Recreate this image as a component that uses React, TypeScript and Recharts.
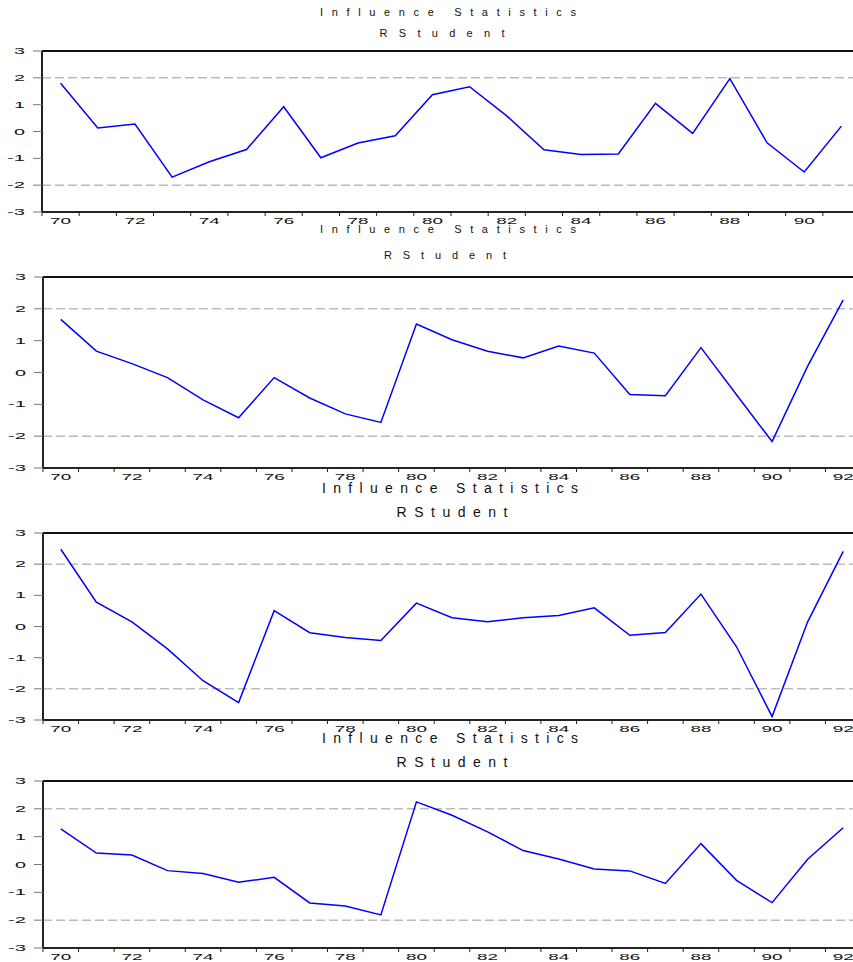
import React from 'react';
import { LineChart, Line, XAxis, YAxis, ReferenceLine } from 'recharts';

const years1 = [70, 71, 72, 73, 74, 75, 76, 77, 78, 79, 80, 81, 82, 83, 84, 85, 86, 87, 88, 89, 90, 91];
const years2 = [70, 71, 72, 73, 74, 75, 76, 77, 78, 79, 80, 81, 82, 83, 84, 85, 86, 87, 88, 89, 90, 91, 92];

const rstudent1 = [1.8, 0.13, 0.28, -1.7, -1.13, -0.67, 0.92, -0.98, -0.43, -0.16, 1.37, 1.67, 0.58, -0.68, -0.86, -0.84, 1.05, -0.07, 1.97, -0.42, -1.51, 0.2];
const rstudent2 = [1.67, 0.67, 0.28, -0.16, -0.86, -1.42, -0.16, -0.8, -1.3, -1.57, 1.52, 1.03, 0.67, 0.46, 0.83, 0.61, -0.69, -0.73, 0.78, -0.7, -2.17, 0.2, 2.28];
const rstudent3 = [2.48, 0.78, 0.15, -0.72, -1.74, -2.44, 0.51, -0.2, -0.35, -0.45, 0.75, 0.28, 0.15, 0.28, 0.35, 0.6, -0.28, -0.19, 1.04, -0.65, -2.89, 0.15, 2.41];
const rstudent4 = [1.28, 0.41, 0.34, -0.22, -0.32, -0.64, -0.46, -1.38, -1.49, -1.81, 2.25, 1.77, 1.17, 0.5, 0.2, -0.16, -0.23, -0.68, 0.75, -0.57, -1.37, 0.19, 1.32];

const xLabels1 = [70, 72, 74, 76, 78, 80, 82, 84, 86, 88, 90];
const xLabels2 = [70, 72, 74, 76, 78, 80, 82, 84, 86, 88, 90, 92];
const yTicks = [-3, -2, -1, 0, 1, 2, 3];
const bandLevels = [2, -2];

const titleText = 'Influence Statistics';
const subtitleText = 'RStudent';

const FONT = '"Liberation Sans", Arial, sans-serif';

const XTick = (props: any) => {
  const { x, y, payload } = props;
  return (
    <text
      x={x}
      y={y + 8}
      textAnchor="middle"
      dominantBaseline="central"
      fontSize={9}
      fontFamily={FONT}
      fill="#111"
      textLength={21}
      lengthAdjust="spacingAndGlyphs"
    >
      {String(payload.value)}
    </text>
  );
};

const YTick = (props: any) => {
  const { x, y, payload } = props;
  const s = String(payload.value);
  return (
    <text
      x={x - 8}
      y={y}
      textAnchor="end"
      dominantBaseline="central"
      fontSize={9}
      fontFamily={FONT}
      fill="#111"
      textLength={s.length > 1 ? 18 : 11}
      lengthAdjust="spacingAndGlyphs"
    >
      {s}
    </text>
  );
};

const EmptyTick = () => <g />;

type PanelProps = {
  plotTop: number;
  plotBottom: number;
  width: number;
  yAxisW: number;
  years: number[];
  values: number[];
  labels: number[];
};

function Panel({ plotTop, plotBottom, width, yAxisW, years, values, labels }: PanelProps) {
  const data = years.map((yr, i) => ({ year: yr, v: values[i] }));
  const bounds = [...years.map((yr) => yr - 0.5), years[years.length - 1] + 0.5];
  const domain: [number, number] = [bounds[0], bounds[bounds.length - 1]];
  const h = plotBottom - plotTop + 20 + 28;
  return (
    <div style={{ position: 'absolute', left: 0, top: plotTop - 20 }}>
      <LineChart width={width} height={h} data={data} margin={{ top: 20, right: 0, bottom: 0, left: 0 }}>
        <XAxis
          xAxisId="g"
          type="number"
          dataKey="year"
          domain={domain}
          ticks={bounds}
          interval={0}
          allowDataOverflow
          height={1}
          tickSize={4}
          tick={EmptyTick}
          tickLine={{ stroke: '#222', strokeWidth: 1 }}
          axisLine={{ stroke: '#222', strokeWidth: 2 }}
        />
        <XAxis
          xAxisId="l"
          type="number"
          dataKey="year"
          domain={domain}
          ticks={labels}
          interval={0}
          allowDataOverflow
          height={27}
          tickSize={0}
          tickMargin={0}
          tickLine={false}
          axisLine={false}
          tick={XTick}
        />
        <YAxis
          type="number"
          domain={[-3, 3]}
          ticks={yTicks}
          interval={0}
          width={yAxisW}
          tickSize={9}
          tickMargin={0}
          tickLine={{ stroke: '#777', strokeWidth: 1 }}
          axisLine={{ stroke: '#222', strokeWidth: 2 }}
          tick={YTick}
        />
        <ReferenceLine xAxisId="g" y={3} stroke="#111" strokeWidth={2} />
        {bandLevels.map((lv) => (
          <ReferenceLine key={lv} xAxisId="g" y={lv} stroke="#9a9a9a" strokeWidth={1} strokeDasharray="9 4" />
        ))}
        <Line
          xAxisId="g"
          type="linear"
          dataKey="v"
          stroke="#0000ff"
          strokeWidth={1.5}
          dot={false}
          activeDot={false}
          isAnimationActive={false}
        />
      </LineChart>
    </div>
  );
}

const titles = [
  { x: 448, y: 12, size: 11, len: 256, text: titleText },
  { x: 442, y: 33, size: 11, len: 125, text: subtitleText },
  { x: 448, y: 229, size: 11, len: 256, text: titleText },
  { x: 445, y: 255, size: 11, len: 122, text: subtitleText },
  { x: 450, y: 488, size: 14, len: 256, text: titleText },
  { x: 452, y: 512, size: 14, len: 111, text: subtitleText },
  { x: 450, y: 738, size: 14, len: 256, text: titleText },
  { x: 452, y: 762, size: 14, len: 111, text: subtitleText },
];

export default function App() {
  return (
    <div
      style={{
        position: 'absolute',
        left: 0,
        top: 0,
        width: 853,
        height: 962,
        overflow: 'hidden',
        background: '#fff',
      }}
    >
      <Panel plotTop={51} plotBottom={212} width={860} yAxisW={42} years={years1} values={rstudent1} labels={xLabels1} />
      <Panel plotTop={277} plotBottom={468} width={861} yAxisW={43} years={years2} values={rstudent2} labels={xLabels2} />
      <Panel plotTop={533} plotBottom={720} width={861} yAxisW={43} years={years2} values={rstudent3} labels={xLabels2} />
      <Panel plotTop={781} plotBottom={948} width={861} yAxisW={43} years={years2} values={rstudent4} labels={xLabels2} />
      <svg
        width={853}
        height={962}
        style={{ position: 'absolute', left: 0, top: 0, pointerEvents: 'none' }}
      >
        {titles.map((t, i) => (
          <text
            key={i}
            x={t.x}
            y={t.y}
            textAnchor="middle"
            dominantBaseline="central"
            fontSize={t.size}
            fontFamily={FONT}
            fill="#111"
            textLength={t.len}
            lengthAdjust="spacing"
          >
            {t.text}
          </text>
        ))}
      </svg>
    </div>
  );
}
